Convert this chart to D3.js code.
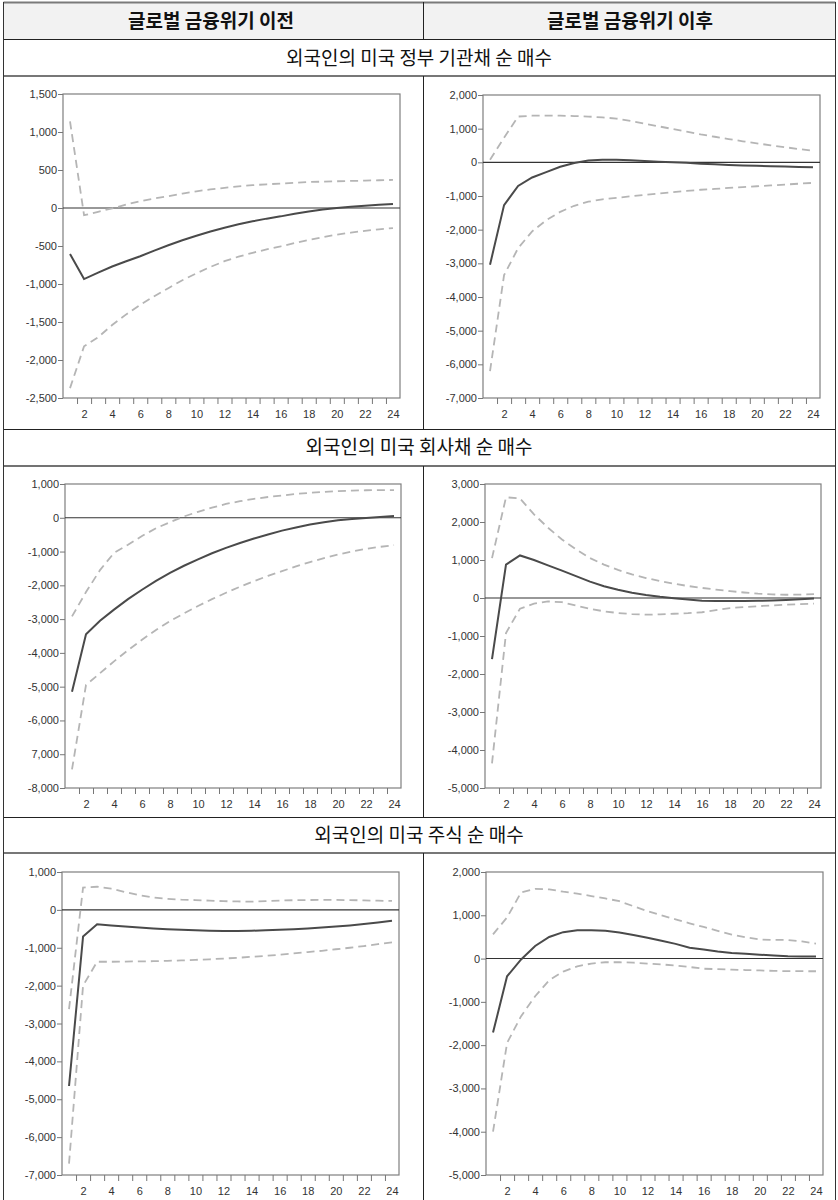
<!DOCTYPE html>
<html>
<head>
<meta charset="utf-8">
<script src="https://cdn.jsdelivr.net/npm/d3@7"></script>
<style>
  body { margin: 0; background: #fff; }
  svg { display: block; }
</style>
</head>
<body>
<div id="chart"></div>
<script>
// 기간 (1~24)
const periods = [1, 2, 3, 4, 5, 6, 7, 8, 9, 10, 11, 12, 13, 14, 15, 16, 17, 18, 19, 20, 21, 22, 23, 24];
const periodLabels = [2, 4, 6, 8, 10, 12, 14, 16, 18, 20, 22, 24];

const colTitles = ["글로벌 금융위기 이전", "글로벌 금융위기 이후"];
const rowTitles = ["외국인의 미국 정부 기관채 순 매수", "외국인의 미국 회사채 순 매수", "외국인의 미국 주식 순 매수"];

// 정부 기관채 - 이전
const govPreMid = [-605, -935, -850, -770, -700, -635, -560, -490, -425, -365, -310, -260, -215, -175, -140, -110, -75, -45, -20, 0, 15, 30, 42, 53];
const govPreUp  = [1140, -95, -50, -5, 45, 90, 125, 155, 190, 220, 245, 265, 285, 300, 312, 322, 332, 342, 347, 352, 356, 360, 365, 370];
const govPreLo  = [-2370, -1820, -1700, -1540, -1400, -1275, -1160, -1055, -950, -860, -775, -700, -640, -590, -545, -505, -460, -420, -385, -350, -325, -300, -280, -265];
const govPreTicks = [1500, 1000, 500, 0, -500, -1000, -1500, -2000, -2500];

// 정부 기관채 - 이후
const govPostMid = [-3040, -1270, -700, -450, -290, -130, -20, 55, 80, 75, 60, 40, 20, 5, -15, -40, -60, -80, -95, -105, -115, -125, -135, -145];
const govPostUp  = [80, 730, 1360, 1385, 1390, 1385, 1375, 1360, 1335, 1300, 1230, 1150, 1070, 990, 910, 830, 760, 690, 625, 565, 505, 450, 395, 345];
const govPostLo  = [-6200, -3350, -2550, -2050, -1720, -1470, -1290, -1170, -1100, -1055, -1010, -965, -925, -885, -850, -815, -790, -760, -735, -710, -685, -660, -635, -610];
const govPostTicks = [2000, 1000, 0, -1000, -2000, -3000, -4000, -5000, -6000, -7000];

// 회사채 - 이전
const corpPreMid = [-5150, -3450, -3050, -2720, -2410, -2130, -1870, -1630, -1420, -1230, -1050, -890, -745, -615, -495, -380, -285, -200, -130, -75, -35, -5, 25, 50];
const corpPreUp  = [-2920, -2200, -1550, -1040, -800, -540, -310, -130, 40, 175, 300, 410, 490, 560, 615, 660, 705, 740, 765, 790, 805, 815, 820, 820];
const corpPreLo  = [-7450, -4950, -4600, -4250, -3920, -3610, -3320, -3060, -2830, -2610, -2410, -2220, -2040, -1875, -1720, -1580, -1440, -1310, -1195, -1090, -1000, -920, -860, -810];
const corpPreTicks = [1000, 0, -1000, -2000, -3000, -4000, -5000, -6000, -7000, -8000];

// 회사채 - 이후
const corpPostMid = [-1610, 880, 1120, 1000, 860, 720, 575, 430, 310, 215, 140, 80, 30, -5, -40, -75, -80, -80, -80, -75, -65, -50, -35, -15];
const corpPostUp  = [1050, 2650, 2620, 2200, 1850, 1540, 1280, 1050, 880, 740, 620, 525, 445, 375, 315, 265, 220, 180, 145, 115, 95, 85, 90, 100];
const corpPostLo  = [-4350, -920, -280, -150, -90, -110, -200, -285, -350, -395, -425, -440, -430, -415, -400, -375, -320, -265, -240, -215, -195, -175, -160, -150];
const corpPostTicks = [3000, 2000, 1000, 0, -1000, -2000, -3000, -4000, -5000];

// 주식 - 이전
const eqPreMid = [-4650, -700, -380, -410, -440, -465, -490, -510, -525, -540, -550, -555, -555, -550, -540, -525, -510, -490, -465, -440, -410, -375, -335, -290];
const eqPreUp  = [-2620, 590, 610, 560, 470, 390, 330, 290, 270, 260, 245, 230, 222, 218, 230, 245, 255, 260, 262, 262, 258, 250, 242, 235];
const eqPreLo  = [-6700, -2000, -1370, -1370, -1365, -1360, -1355, -1345, -1335, -1320, -1305, -1285, -1265, -1240, -1215, -1185, -1150, -1115, -1080, -1040, -1000, -955, -905, -860];
const eqPreTicks = [1000, 0, -1000, -2000, -3000, -4000, -5000, -6000, -7000];

// 주식 - 이후
const eqPostMid = [-1710, -410, -20, 290, 500, 610, 655, 655, 640, 600, 545, 480, 410, 340, 250, 210, 165, 130, 110, 90, 70, 55, 48, 45];
const eqPostUp  = [560, 950, 1530, 1610, 1600, 1545, 1500, 1445, 1390, 1325, 1210, 1095, 1000, 905, 815, 730, 640, 555, 490, 440, 430, 430, 395, 345];
const eqPostLo  = [-4000, -1950, -1330, -870, -500, -300, -180, -115, -85, -85, -95, -115, -135, -160, -195, -235, -245, -255, -265, -275, -285, -290, -292, -293];
const eqPostTicks = [2000, 1000, 0, -1000, -2000, -3000, -4000, -5000];

const W = 838, H = 1200;
const numFmt = d3.formatLocale({decimal: ".", thousands: ",", grouping: [3], currency: ["", ""], minus: "-"}).format(",");

const panels = [
  {mid: govPreMid,  up: govPreUp,  lo: govPreLo,  ticks: govPreTicks,  box: [63, 94, 400, 398]},
  {mid: govPostMid, up: govPostUp, lo: govPostLo, ticks: govPostTicks, box: [483, 95, 820, 398]},
  // 원 자료의 눈금 표기("7,000")를 그대로 둔다
  {mid: corpPreMid, up: corpPreUp, lo: corpPreLo, ticks: corpPreTicks, box: [65, 484, 401, 788],
    fmt: d => d === -7000 ? "7,000" : numFmt(d)},
  {mid: corpPostMid, up: corpPostUp, lo: corpPostLo, ticks: corpPostTicks, box: [485, 484, 821, 788]},
  {mid: eqPreMid,  up: eqPreUp,  lo: eqPreLo,  ticks: eqPreTicks,  box: [62, 872, 399, 1175]},
  {mid: eqPostMid, up: eqPostUp, lo: eqPostLo, ticks: eqPostTicks, box: [486, 872, 823, 1175]}
];

const svg = d3.select("#chart")
  .append("svg")
    .attr("width", W)
    .attr("height", H)
    .style("font-family", "'Noto Sans CJK KR', sans-serif");

// 표 틀
const table = svg.append("g");
const L = 3.5, R = 835.5, MID = 423.5;

table.append("rect")
    .attr("x", L).attr("y", 3)
    .attr("width", R - L).attr("height", 36)
    .attr("fill", "#f2f2f2");

const hLines = [
  {y: 2.5, c: "#7a7a7a", w: 2},
  {y: 39.5, c: "#222", w: 1},
  {y: 76, c: "#777", w: 2},
  {y: 429.5, c: "#222", w: 1},
  {y: 466, c: "#444", w: 1.5},
  {y: 817.5, c: "#222", w: 1},
  {y: 853, c: "#777", w: 2}
];
hLines.forEach(l => {
  table.append("line")
      .attr("x1", L).attr("x2", R)
      .attr("y1", l.y).attr("y2", l.y)
      .attr("stroke", l.c).attr("stroke-width", l.w);
});

[L, R].forEach(xv => {
  table.append("line")
      .attr("x1", xv).attr("x2", xv)
      .attr("y1", 2).attr("y2", H)
      .attr("stroke", "#333").attr("stroke-width", 1);
});

[[2, 39.5], [76, 429.5], [466, 817.5], [853, H]].forEach(s => {
  table.append("line")
      .attr("x1", MID).attr("x2", MID)
      .attr("y1", s[0]).attr("y2", s[1])
      .attr("stroke", "#222").attr("stroke-width", 1);
});

colTitles.forEach((t, i) => {
  table.append("text")
      .attr("x", i === 0 ? 211 : 630)
      .attr("y", 21)
      .attr("dy", "0.35em")
      .attr("text-anchor", "middle")
      .attr("font-size", 19)
      .attr("font-weight", "bold")
      .attr("fill", "#111")
      .text(t);
});

[58, 447.5, 835].forEach((yv, i) => {
  table.append("text")
      .attr("x", 419)
      .attr("y", yv)
      .attr("dy", "0.35em")
      .attr("text-anchor", "middle")
      .attr("font-size", 19)
      .attr("fill", "#111")
      .text(rowTitles[i]);
});

// 충격반응 패널
const halfTicks = d3.range(1.5, 24, 1);

panels.forEach(p => {
  const [x0, y0, x1, y1] = p.box;
  const x = d3.scaleLinear().domain([0.5, 24.5]).range([x0, x1]);
  const y = d3.scaleLinear()
      .domain([p.ticks[p.ticks.length - 1], p.ticks[0]])
      .range([y1, y0]);

  const g = svg.append("g")
      .style("font-family", "'Liberation Sans', Arial, sans-serif");

  g.append("rect")
      .attr("x", x0).attr("y", y0)
      .attr("width", x1 - x0).attr("height", y1 - y0)
      .attr("fill", "none")
      .attr("stroke", "#7f7f7f")
      .attr("stroke-width", 1.2);

  g.append("line")
      .attr("x1", x0).attr("x2", x1)
      .attr("y1", y(0)).attr("y2", y(0))
      .attr("stroke", "#333")
      .attr("stroke-width", 1.1);

  const yAxis = g.append("g")
      .attr("transform", `translate(${x0},0)`)
      .call(d3.axisLeft(y).tickValues(p.ticks).tickSize(5).tickPadding(1).tickFormat(p.fmt || numFmt));

  const xTicks = g.append("g")
      .attr("transform", `translate(0,${y1})`)
      .call(d3.axisBottom(x).tickValues(halfTicks).tickSize(6).tickFormat(""));

  const xLabels = g.append("g")
      .attr("transform", `translate(0,${y1})`)
      .call(d3.axisBottom(x).tickValues(periodLabels).tickSize(0).tickPadding(12));

  [yAxis, xTicks, xLabels].forEach(a => {
    a.select(".domain").remove();
    a.selectAll("line").attr("stroke", "#777");
    a.selectAll("text").attr("font-size", 11).attr("fill", "#333");
  });

  const line = d3.line()
      .x((d, i) => x(periods[i]))
      .y(d => y(d));

  g.append("path")
      .attr("d", line(p.up))
      .attr("fill", "none")
      .attr("stroke", "#b5b5b5")
      .attr("stroke-width", 1.8)
      .attr("stroke-dasharray", "8,5");

  g.append("path")
      .attr("d", line(p.lo))
      .attr("fill", "none")
      .attr("stroke", "#b5b5b5")
      .attr("stroke-width", 1.8)
      .attr("stroke-dasharray", "8,5");

  g.append("path")
      .attr("d", line(p.mid))
      .attr("fill", "none")
      .attr("stroke", "#4a4a4a")
      .attr("stroke-width", 2);
});
</script>
</body>
</html>
